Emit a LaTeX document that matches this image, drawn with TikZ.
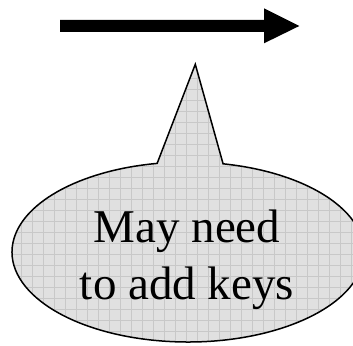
\documentclass[tikz,border=0pt]{standalone}
\usepackage{fontspec}
\setmainfont{Liberation Serif}
\definecolor{calloutgray}{HTML}{E0E0E0}
\definecolor{gridgray}{HTML}{C8C8C8}
\tikzset{
  callout/.style={line width=1.5pt,black,line join=miter},
  calloutgrid/.style={gridgray,line width=0.8pt},
  callouttext/.style={font=\fontsize{47}{57}\selectfont,align=center,inner sep=0pt}
}
\begin{document}
\begin{tikzpicture}[x=10pt,y=10pt]
\useasboundingbox (0,0) rectangle (35.3,34.5);
\clip (0,0) rectangle (35.3,34.5);

\fill[black] (6,32.5) -- (26.4,32.5) -- (26.4,33.67) -- (29.93,31.9) -- (26.4,30.17) -- (26.4,31.3) -- (6,31.3) -- cycle; %arrow

\coordinate (tip) at (19.53,28.07);
\coordinate (c) at (18.8,9.3);
\coordinate (baseR) at ([shift={(c)}]78.5:17.6 and 9);

\begin{scope}
\clip (tip) -- (baseR) arc[start angle=78.5,end angle=-259.9,x radius=17.6,y radius=9] -- cycle;
\fill[calloutgray] (0,0) rectangle (35.3,34.5); %fill
\draw[calloutgrid,xshift=10.7pt,yshift=2.3pt] (-2.2,-2.2) grid[step=1.1] (38.5,37.4); %grid
\end{scope}
\draw[callout] (tip) -- (baseR) arc[start angle=78.5,end angle=-259.9,x radius=17.6,y radius=9] -- cycle; %outline

\node[callouttext,anchor=base] (label) at (18.7,4.5) {May need\\to add keys};
\end{tikzpicture}
\end{document}
